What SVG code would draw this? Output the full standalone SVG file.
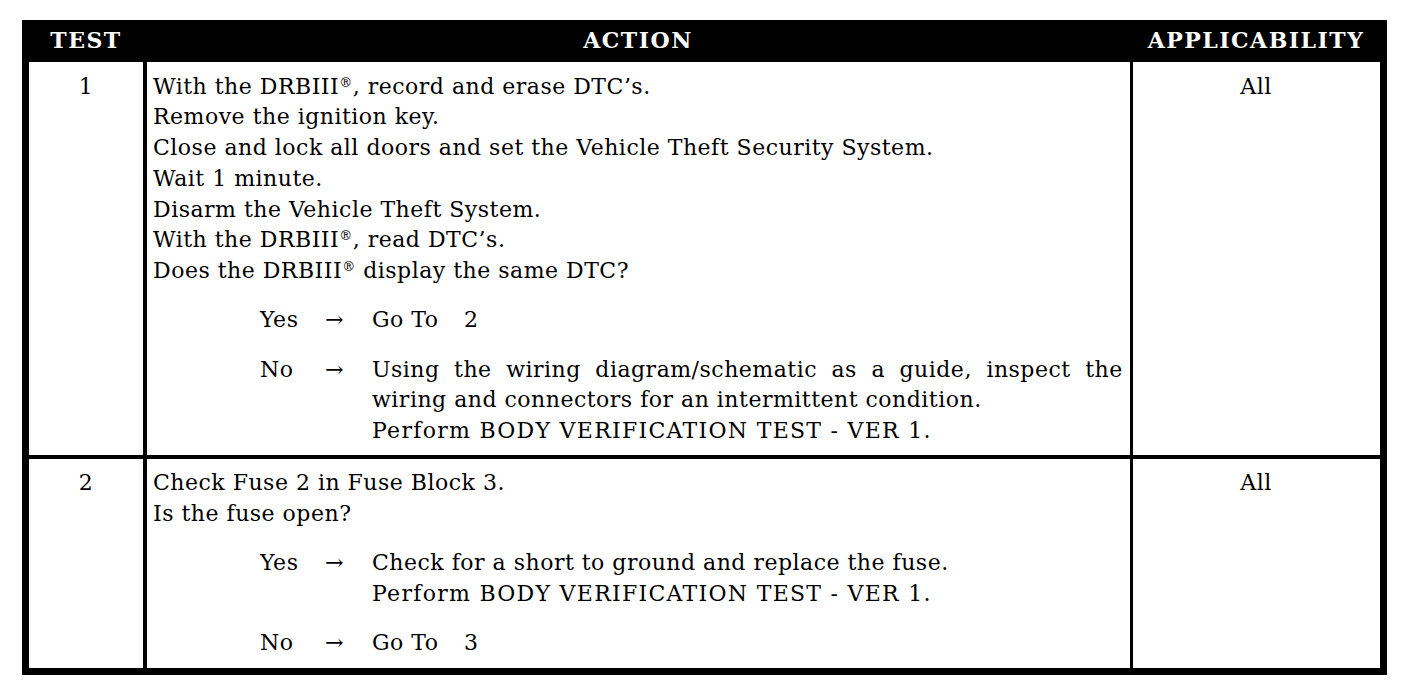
<svg xmlns="http://www.w3.org/2000/svg" width="1408" height="684" viewBox="0 0 1408 684">
<style>
.t{font-family:"DejaVu Serif","Liberation Serif",serif;font-size:22px;letter-spacing:0.5px;fill:#000}
.h{font-family:"DejaVu Serif","Liberation Serif",serif;font-size:22px;font-weight:bold;letter-spacing:1.5px;fill:#fff}
.c{text-anchor:middle}
.sup{font-size:13px}
.cell{fill:#fff}
</style>
<rect width="1408" height="684" fill="#fff"/>
<g id="table">
<rect x="22" y="20" width="1365" height="655" fill="#000"/>
<rect class="cell" x="29" y="62" width="114" height="393"/>
<rect class="cell" x="147" y="62" width="983" height="393"/>
<rect class="cell" x="1133" y="62" width="247" height="393"/>
<rect class="cell" x="29" y="459" width="114" height="209"/>
<rect class="cell" x="147" y="459" width="983" height="209"/>
<rect class="cell" x="1133" y="459" width="247" height="209"/>
</g>
<g id="header">
<text class="h c" x="86" y="48">TEST</text>
<text class="h c" x="638" y="48">ACTION</text>
<text class="h c" x="1256" y="48">APPLICABILITY</text>
</g>
<g id="row1">
<text class="t c" x="86" y="94">1</text>
<text class="t c" x="1256" y="94">All</text>
<text class="t" x="153" y="94">With the DRBIII<tspan class="sup" dy="-7">®</tspan><tspan dy="7">, record and erase DTC’s.</tspan></text>
<text class="t" x="153" y="124">Remove the ignition key.</text>
<text class="t" x="153" y="155">Close and lock all doors and set the Vehicle Theft Security System.</text>
<text class="t" x="153" y="186">Wait 1 minute.</text>
<text class="t" x="153" y="217">Disarm the Vehicle Theft System.</text>
<text class="t" x="153" y="247">With the DRBIII<tspan class="sup" dy="-7">®</tspan><tspan dy="7">, read DTC’s.</tspan></text>
<text class="t" x="153" y="278">Does the DRBIII<tspan class="sup" dy="-7">®</tspan><tspan dy="7"> display the same DTC?</tspan></text>
<text class="t" x="260" y="327">Yes</text>
<text class="t" x="325" y="327">→</text>
<text class="t" x="372" y="327">Go To</text>
<text class="t" x="464" y="327">2</text>
<text class="t" x="260" y="377">No</text>
<text class="t" x="325" y="377">→</text>
<text class="t" x="372" y="377" style="word-spacing:7px">Using the wiring diagram/schematic as a guide, inspect the</text>
<text class="t" x="372" y="407">wiring and connectors for an intermittent condition.</text>
<text class="t" x="372" y="438" textLength="559" lengthAdjust="spacing">Perform BODY VERIFICATION TEST - VER 1.</text>
</g>
<g id="row2">
<text class="t c" x="86" y="490">2</text>
<text class="t c" x="1256" y="490">All</text>
<text class="t" x="153" y="490">Check Fuse 2 in Fuse Block 3.</text>
<text class="t" x="153" y="521">Is the fuse open?</text>
<text class="t" x="260" y="570">Yes</text>
<text class="t" x="325" y="570">→</text>
<text class="t" x="372" y="570">Check for a short to ground and replace the fuse.</text>
<text class="t" x="372" y="601" textLength="559" lengthAdjust="spacing">Perform BODY VERIFICATION TEST - VER 1.</text>
<text class="t" x="260" y="650">No</text>
<text class="t" x="325" y="650">→</text>
<text class="t" x="372" y="650">Go To</text>
<text class="t" x="464" y="650">3</text>
</g>
</svg>
